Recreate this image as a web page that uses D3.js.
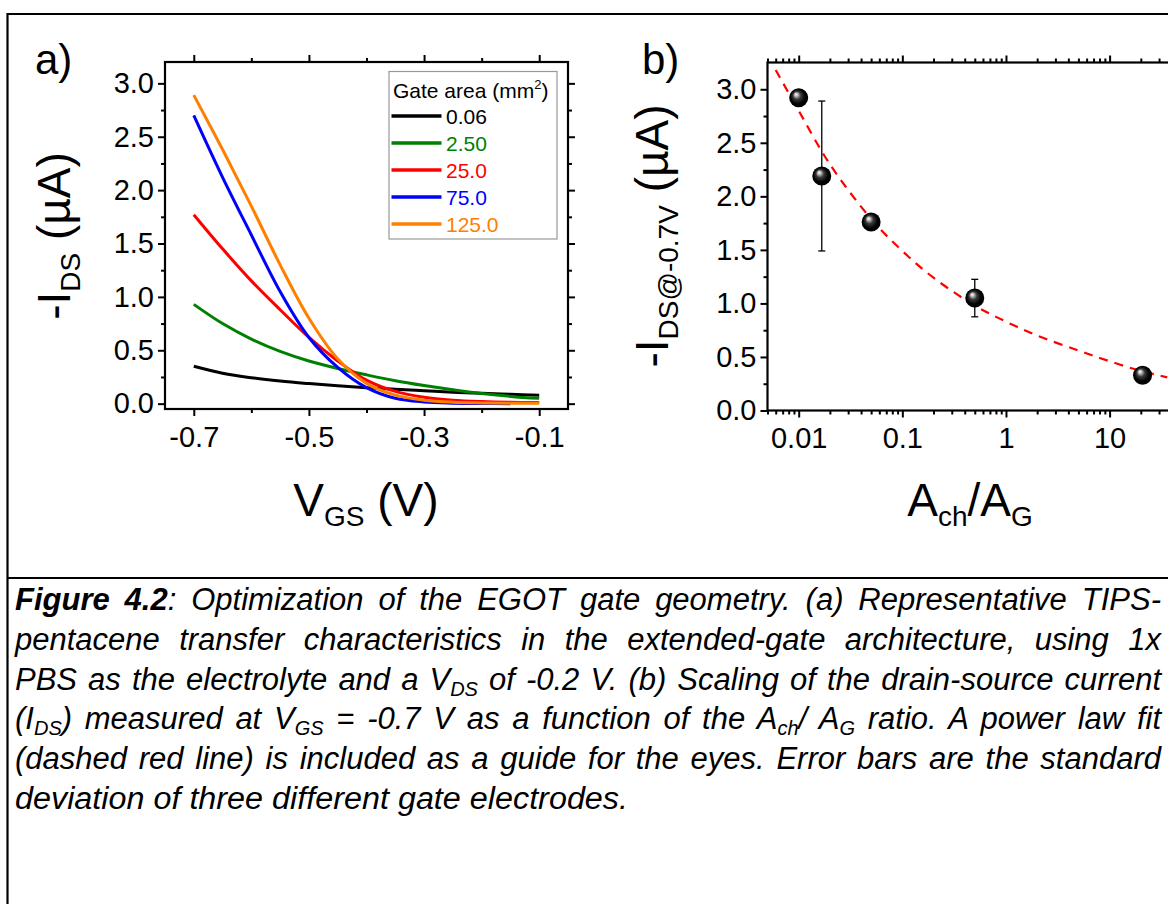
<!DOCTYPE html>
<html><head><meta charset="utf-8">
<script src="https://cdn.jsdelivr.net/npm/d3@7"></script>
<style>
html,body{margin:0;padding:0;background:#fff;}
svg{display:block;font-family:"Liberation Sans",Arial,Helvetica,sans-serif;}
</style></head><body>
<svg id="fig" width="1168" height="904"></svg>
<script>
// ---------- Panel (a): transfer characteristics ----------
const vgs = [-0.7,-0.65,-0.6,-0.55,-0.5,-0.45,-0.4,-0.35,-0.3,-0.25,-0.2,-0.15,-0.1];
const gateAreas = ["0.06","2.50","25.0","75.0","125.0"];
const seriesColors = ["#000000","#008000","#ff0000","#0000ff","#ff8000"];
const ids_0_06  = [0.35,0.285,0.243,0.212,0.188,0.167,0.149,0.135,0.122,0.108,0.097,0.087,0.078];
const ids_2_50  = [0.93,0.75,0.605,0.49,0.40,0.33,0.27,0.215,0.17,0.13,0.095,0.068,0.05];
const ids_25_0  = [1.77,1.45,1.15,0.88,0.62,0.40,0.22,0.115,0.06,0.033,0.02,0.013,0.01];
const ids_75_0  = [2.70,2.12,1.58,1.05,0.62,0.34,0.15,0.05,0.016,0.005,0.001,0.0,null];
const ids_125_0 = [2.89,2.38,1.85,1.30,0.80,0.42,0.19,0.08,0.033,0.014,0.007,0.004,0.003];
const transferSeries = [ids_0_06, ids_2_50, ids_25_0, ids_75_0, ids_125_0];
const xTicksA = [-0.7,-0.5,-0.3,-0.1];
const xMinorA = [-0.6,-0.4,-0.2];
const yTicks = [0,0.5,1.0,1.5,2.0,2.5,3.0];
const yMinor = [0.25,0.75,1.25,1.75,2.25,2.75];

// ---------- Panel (b): current at VGS = -0.7 V vs area ratio ----------
const areaRatio = [0.01, 0.0167, 0.05, 0.5, 20.8];
const idsAt07 = [2.92, 2.19, 1.76, 1.05, 0.33];
const idsErr = [0, 0.70, 0, 0.175, 0];
const fitRatio = [0.006,0.01,0.02,0.05,0.1,0.2,0.5,1,2,5,10,20,36];
const fitIds = [3.18,2.80,2.30,1.79,1.49,1.24,0.98,0.83,0.70,0.56,0.46,0.37,0.31];
const xTicksB = [0.01,0.1,1,10];
const xTickLabelsB = ["0.01","0.1","1","10"];

const svg = d3.select("#fig");
svg.append("rect").attr("width",1168).attr("height",904).attr("fill","#fff");

// outer figure frame and caption divider
const frame = svg.append("g").attr("stroke","#000").attr("stroke-width",2.2);
frame.append("line").attr("x1",7).attr("x2",1168).attr("y1",14).attr("y2",14);
frame.append("line").attr("x1",7.5).attr("x2",7.5).attr("y1",13).attr("y2",904);
frame.append("line").attr("x1",7).attr("x2",1168).attr("y1",578).attr("y2",578);

const TICK_FONT = 29;

function boxAxes(g, x, y, opts){
  const [x0,x1] = x.range(), [y0,y1] = y.range(); // y0 bottom, y1 top
  const styleTicks = sel => {
    sel.select(".domain").remove();
    sel.selectAll(".tick line").attr("stroke","#000").attr("stroke-width",2);
    sel.selectAll("text").attr("font-size",TICK_FONT).attr("fill","#000")
       .attr("font-family",'"Liberation Sans",Arial,sans-serif');
  };
  g.append("g").attr("transform",`translate(0,${y0})`)
    .call(d3.axisBottom(x).tickValues(opts.xMajor).tickSize(7).tickPadding(10).tickFormat(opts.xFmt))
    .call(styleTicks);
  g.append("g").attr("transform",`translate(0,${y0})`)
    .call(d3.axisBottom(x).tickValues(opts.xMinor).tickSize(4).tickFormat(""))
    .call(styleTicks);
  g.append("g").attr("transform",`translate(0,${y1})`)
    .call(d3.axisTop(x).tickValues(opts.xMajor).tickSize(7).tickFormat(""))
    .call(styleTicks);
  g.append("g").attr("transform",`translate(0,${y1})`)
    .call(d3.axisTop(x).tickValues(opts.xMinor).tickSize(4).tickFormat(""))
    .call(styleTicks);
  g.append("g").attr("transform",`translate(${x0},0)`)
    .call(d3.axisLeft(y).tickValues(yTicks).tickSize(7).tickPadding(4).tickFormat(d=>d.toFixed(1)))
    .call(styleTicks);
  g.append("g").attr("transform",`translate(${x0},0)`)
    .call(d3.axisLeft(y).tickValues(yMinor).tickSize(4).tickFormat(""))
    .call(styleTicks);
  g.append("g").attr("transform",`translate(${x1},0)`)
    .call(d3.axisRight(y).tickValues(yTicks).tickSize(7).tickFormat(""))
    .call(styleTicks);
  g.append("g").attr("transform",`translate(${x1},0)`)
    .call(d3.axisRight(y).tickValues(yMinor).tickSize(4).tickFormat(""))
    .call(styleTicks);
  g.append("rect").attr("x",x0).attr("y",y1).attr("width",x1-x0).attr("height",y0-y1)
    .attr("fill","none").attr("stroke","#000").attr("stroke-width",2.2);
}

// ---------- draw panel (a) ----------
const xa = d3.scaleLinear().domain([-0.75,-0.05]).range([165,568]);
const ya = d3.scaleLinear().domain([-0.05,3.2]).range([409,62]);
const ga = svg.append("g");
const lineA = d3.line()
  .defined(d => d[1] !== null)
  .x(d => xa(d[0])).y(d => ya(d[1]))
  .curve(d3.curveCatmullRom.alpha(0.5));
transferSeries.forEach((s,i) => {
  ga.append("path").datum(vgs.map((v,k)=>[v,s[k]]))
    .attr("d",lineA).attr("fill","none")
    .attr("stroke",seriesColors[i]).attr("stroke-width",3).attr("stroke-linejoin","round");
});
boxAxes(ga, xa, ya, {xMajor:xTicksA, xMinor:xMinorA, xFmt:d=>d.toFixed(1)});

// legend
const leg = ga.append("g");
leg.append("rect").attr("x",389).attr("y",71.5).attr("width",168).attr("height",167.5)
  .attr("fill","#fff").attr("stroke","#999").attr("stroke-width",1.2);
const lt = leg.append("text").attr("x",393).attr("y",98).attr("font-size",21).attr("fill","#000");
lt.append("tspan").text("Gate area (mm");
lt.append("tspan").attr("font-size",13).attr("dy",-9).text("2");
lt.append("tspan").attr("dy",9).text(")");
gateAreas.forEach((lab,i) => {
  const yy = 116 + i*27;
  leg.append("line").attr("x1",391.5).attr("x2",441.5).attr("y1",yy).attr("y2",yy)
    .attr("stroke",seriesColors[i]).attr("stroke-width",3.5);
  leg.append("text").attr("x",446).attr("y",yy+7.5).attr("font-size",21)
    .attr("fill",seriesColors[i]).text(lab);
});

// titles panel (a)
svg.append("text").attr("x",35).attr("y",74).attr("font-size",42).text("a)");
const xtA = svg.append("text").attr("x",366).attr("y",516).attr("font-size",46).attr("text-anchor","middle");
xtA.append("tspan").text("V");
xtA.append("tspan").attr("font-size",28).attr("dy",10).text("GS");
xtA.append("tspan").attr("dy",-10).text(" (V)");
const ytA = svg.append("text").attr("transform","translate(70,236) rotate(-90)")
  .attr("font-size",46).attr("text-anchor","middle");
ytA.append("tspan").text("-I");
ytA.append("tspan").attr("font-size",28).attr("dy",10).text("DS");
ytA.append("tspan").attr("dy",-10).text(" (µA)");

// ---------- draw panel (b) ----------
const xb = d3.scaleLog().domain([0.005,40]).range([767.5,1172]);
const yb = d3.scaleLinear().domain([0,3.25]).range([410.5,62.5]);
const gb = svg.append("g");
const minorB = [];
[0.001,0.01,0.1,1,10].forEach(dec => { for(let m=2;m<=9;m++){ const v=dec*m; if(v>=0.005 && v<=40) minorB.push(v);} });

const fitLine = d3.line().x(d=>xb(d[0])).y(d=>yb(d[1])).curve(d3.curveCatmullRom.alpha(0.5));
gb.append("path").datum(fitRatio.map((r,i)=>[r,fitIds[i]]))
  .attr("d",fitLine).attr("fill","none").attr("stroke","#ff0000")
  .attr("stroke-width",2.2).attr("stroke-dasharray","9,7");

const defs = svg.append("defs");
const grad = defs.append("radialGradient").attr("id","ball")
  .attr("cx","50%").attr("cy","50%").attr("r","55%").attr("fx","35%").attr("fy","30%");
grad.append("stop").attr("offset","0%").attr("stop-color","#ffffff");
grad.append("stop").attr("offset","14%").attr("stop-color","#c8c8c8");
grad.append("stop").attr("offset","38%").attr("stop-color","#3a3a3a");
grad.append("stop").attr("offset","70%").attr("stop-color","#000000");
grad.append("stop").attr("offset","100%").attr("stop-color","#000000");

// error bars
areaRatio.forEach((r,i) => {
  if(idsErr[i] > 0){
    const cx = xb(r), yt = yb(idsAt07[i]+idsErr[i]), ybt = yb(idsAt07[i]-idsErr[i]);
    gb.append("line").attr("x1",cx).attr("x2",cx).attr("y1",yt).attr("y2",ybt)
      .attr("stroke","#000").attr("stroke-width",1.3);
    [yt,ybt].forEach(yy => gb.append("line").attr("x1",cx-3.5).attr("x2",cx+3.5)
      .attr("y1",yy).attr("y2",yy).attr("stroke","#000").attr("stroke-width",1.3));
  }
});
gb.selectAll("circle.pt").data(areaRatio.map((r,i)=>[r,idsAt07[i]])).join("circle")
  .attr("class","pt").attr("cx",d=>xb(d[0])).attr("cy",d=>yb(d[1])).attr("r",9.5)
  .attr("fill","url(#ball)");

boxAxes(gb, xb, yb, {xMajor:xTicksB, xMinor:minorB, xFmt:(d,i)=>xTickLabelsB[i]});

svg.append("text").attr("x",642).attr("y",74).attr("font-size",42).text("b)");
const xtB = svg.append("text").attr("x",970).attr("y",516).attr("font-size",46).attr("text-anchor","middle");
xtB.append("tspan").text("A");
xtB.append("tspan").attr("font-size",28).attr("dy",10).text("ch");
xtB.append("tspan").attr("dy",-10).text("/A");
xtB.append("tspan").attr("font-size",28).attr("dy",10).text("G");
const ytB = svg.append("text").attr("transform","translate(668,236) rotate(-90)")
  .attr("font-size",46).attr("text-anchor","middle");
ytB.append("tspan").text("-I");
ytB.append("tspan").attr("font-size",28).attr("dy",10).text("DS@-0.7V");
ytB.append("tspan").attr("dy",-10).text(" (µA)");

// ---------- caption ----------
const captionLines = [
  [["Figure 4.2","b"],[": Optimization of the EGOT gate geometry. (a) Representative TIPS-",""]],
  [["pentacene transfer characteristics in the extended-gate architecture, using 1x",""]],
  [["PBS as the electrolyte and a V",""],["DS","sub"],[" of -0.2 V. (b) Scaling of the drain-source current",""]],
  [["(I",""],["DS","sub"],[") measured at V",""],["GS","sub"],[" = -0.7 V as a function of the A",""],["ch","sub"],["/ A",""],["G","sub"],[" ratio. A power law fit",""]],
  [["(dashed red line) is included as a guide for the eyes. Error bars are the standard",""]],
  [["deviation of three different gate electrodes.",""]]
];
const capX = 15, capRight = 1161, capFont = 31;
captionLines.forEach((parts, li) => {
  const t = svg.append("text").attr("x",capX).attr("y",610 + li*39.8)
    .attr("font-size",capFont).attr("font-style","italic").attr("fill","#000");
  let shift = 0;
  parts.forEach(([txt,st]) => {
    const ts = t.append("tspan").text(txt);
    if(st === "b"){ ts.attr("font-weight","bold"); }
    if(st === "sub"){ ts.attr("font-size",20).attr("dy",6); shift = 6; }
    else if(shift){ ts.attr("dy",-shift); shift = 0; }
  });
  const natural = t.node().getComputedTextLength();
  if(li < captionLines.length-1){
    const spaces = parts.map(p=>p[0]).join("").split(" ").length - 1;
    const gap = (capRight - capX - natural)/spaces;
    if(gap >= 0) t.attr("word-spacing", gap);
    else t.attr("textLength", capRight - capX).attr("lengthAdjust","spacingAndGlyphs");
  } else {
    t.attr("textLength", 613).attr("lengthAdjust","spacingAndGlyphs");
  }
});
</script>
</body></html>
